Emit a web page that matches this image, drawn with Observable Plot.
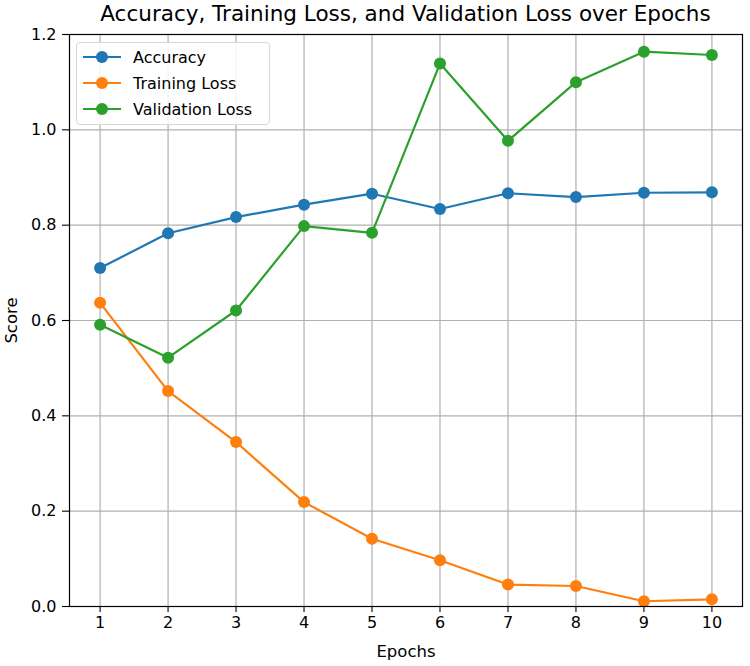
<!DOCTYPE html>
<html>
<head>
<meta charset="utf-8">
<script src="https://cdn.jsdelivr.net/npm/d3@7"></script>
<script src="https://cdn.jsdelivr.net/npm/@observablehq/plot@0.6"></script>
<style>
  body { margin: 0; background: #fff; font-family: "DejaVu Sans", sans-serif; }
  #wrap { position: relative; width: 750px; height: 666px; background: #fff; }
  #title { position: absolute; left: 0; top: 0; width: 750px; height: 28px; line-height: 28px;
           font-size: 21.5px; color: #000; box-sizing: border-box;
           padding-left: 69px; padding-right: 8px; text-align: center; white-space: nowrap; }
  #chart svg { display: block; }
  #legend { position: absolute; left: 76px; top: 42px; width: 194px; height: 83px;
            box-sizing: border-box; border: 1px solid #d6d6d6; border-radius: 4px;
            background: rgba(255,255,255,0.85); padding-top: 1px; }
  .row { display: flex; align-items: center; height: 26px; font-size: 16px; color: #000; }
  .row svg { margin-left: 6px; margin-right: 12px; }
</style>
</head>
<body>
<div id="wrap">
  <div id="chart"></div>
  <div id="title">Accuracy, Training Loss, and Validation Loss over Epochs</div>
  <div id="legend"></div>
</div>
<script>
const epochs = [1, 2, 3, 4, 5, 6, 7, 8, 9, 10];
const accuracy = [0.710, 0.783, 0.817, 0.843, 0.866, 0.834, 0.867, 0.859, 0.868, 0.869];
const trainingLoss = [0.637, 0.452, 0.345, 0.219, 0.142, 0.097, 0.046, 0.043, 0.011, 0.015];
const validationLoss = [0.591, 0.522, 0.621, 0.798, 0.784, 1.139, 0.977, 1.100, 1.164, 1.157];
const seriesNames = ["Accuracy", "Training Loss", "Validation Loss"];
const seriesColors = ["#1f77b4", "#ff7f0e", "#2ca02c"];
const yTicks = [0.0, 0.2, 0.4, 0.6, 0.8, 1.0, 1.2];
const xLabel = "Epochs";
const yLabel = "Score";

const seriesValues = [accuracy, trainingLoss, validationLoss];
const rows = seriesNames.flatMap((name, i) =>
  epochs.map((e, j) => ({series: name, epoch: e, value: seriesValues[i][j]})));
const fmtY = d3.format(".1f");

const chart = Plot.plot({
  width: 750,
  height: 666,
  marginLeft: 69,
  marginRight: 8,
  marginTop: 34,
  marginBottom: 60,
  style: {fontFamily: "DejaVu Sans, sans-serif", fontSize: "16px", background: "#fff", color: "#000", overflow: "visible"},
  x: {domain: [0.55, 10.45]},
  y: {domain: [0, 1.2]},
  color: {domain: seriesNames, range: seriesColors},
  marks: [
    Plot.gridX(epochs, {stroke: "#b0b0b0", strokeOpacity: 1, strokeWidth: 1.2}),
    Plot.gridY(yTicks, {stroke: "#b0b0b0", strokeOpacity: 1, strokeWidth: 1.2}),
    Plot.axisX({ticks: epochs, tickFormat: () => "", tickSize: 6, label: null, stroke: "#000", strokeWidth: 1.1}),
    Plot.text(epochs, {x: d => d, text: d => String(d), frameAnchor: "bottom", dy: 21,
                       fontSize: 16, fill: "#000"}),
    Plot.axisX({ticks: [], tickSize: 0, fontSize: 16.5, label: xLabel, labelAnchor: "center",
                labelOffset: 50, labelArrow: "none"}),
    Plot.axisY({ticks: yTicks, tickFormat: () => "", tickSize: 7, label: null, stroke: "#000", strokeWidth: 1.1}),
    Plot.text(yTicks, {y: d => d, text: d => fmtY(d), frameAnchor: "left", dx: -13,
                       textAnchor: "end", fontSize: 16, fill: "#000"}),
    Plot.axisY({ticks: [], tickSize: 0, fontSize: 16.5, label: yLabel, labelAnchor: "center",
                labelOffset: 64, labelArrow: "none"}),
    Plot.line(rows, {x: "epoch", y: "value", z: "series", stroke: "series", strokeWidth: 2.2}),
    Plot.dot(rows, {x: "epoch", y: "value", fill: "series", r: 6, stroke: "none"}),
    Plot.frame({stroke: "#000", strokeWidth: 1.2})
  ]
});
document.getElementById("chart").appendChild(chart);

const legend = document.getElementById("legend");
seriesNames.forEach((name, i) => {
  const row = document.createElement("div");
  row.className = "row";
  row.innerHTML = `<svg width="38" height="14"><line x1="0" y1="7" x2="38" y2="7" stroke="${seriesColors[i]}" stroke-width="2.2"/><circle cx="19" cy="7" r="6" fill="${seriesColors[i]}"/></svg><span>${name}</span>`;
  legend.appendChild(row);
});
</script>
</body>
</html>
